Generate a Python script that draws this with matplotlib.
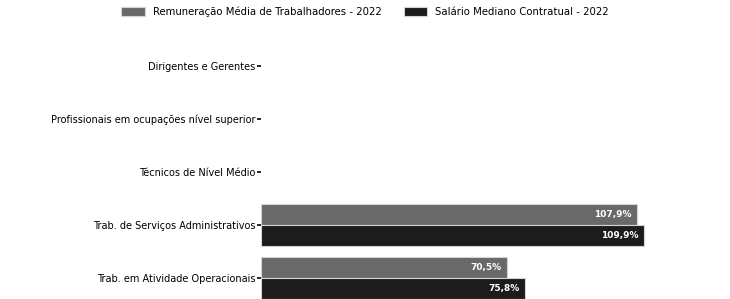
import numpy as np
import matplotlib.pyplot as plt

# categorias e valores (% em relação à média)
categorias = ['Dirigentes e Gerentes',
              'Profissionais em ocupações nível superior',
              'Técnicos de Nível Médio',
              'Trab. de Serviços Administrativos',
              'Trab. em Atividade Operacionais']
remuneracao_media = [np.nan, np.nan, np.nan, 107.9, 70.5]
salario_mediano = [np.nan, np.nan, np.nan, 109.9, 75.8]
series_nomes = ['Remuneração Média de Trabalhadores - 2022',
                'Salário Mediano Contratual - 2022']

W, H = 730, 299
fig = plt.figure(figsize=(W / 100, H / 100), dpi=100)
ax = fig.add_axes([261 / W, 0, (W - 261) / W, (299 - 40) / H])

y = np.arange(len(categorias))
h = 0.4
b1 = ax.barh(y - h / 2, remuneracao_media, height=h, color='#696969',
             edgecolor='#d3d3d3', linewidth=0.8, label=series_nomes[0])
b2 = ax.barh(y + h / 2, salario_mediano, height=h, color='#1c1c1c',
             edgecolor='#d3d3d3', linewidth=0.8, label=series_nomes[1])

for bars, vals in [(b1, remuneracao_media), (b2, salario_mediano)]:
    for bar, v in zip(bars, vals):
        if np.isnan(v):
            continue
        ax.text(v - 1.6, bar.get_y() + bar.get_height() / 2,
                f'{v:.1f}%'.replace('.', ','), ha='right', va='center',
                color='white', fontsize=6.5, fontweight='bold')

ax.set_yticks(y)
ax.set_yticklabels(categorias, fontsize=7)
ax.tick_params(axis='y', length=3, width=1.2, pad=1)
ax.set_ylim(4 + h, -0.49)
ax.set_xlim(0, (W - 261) / 3.485)
ax.set_xticks([])
for s in ax.spines.values():
    s.set_visible(False)

fig.legend(loc='upper center', bbox_to_anchor=(0.5, 1.008), ncol=2,
           frameon=False, fontsize=7.3, handlelength=2.3, handleheight=1.0,
           handletextpad=0.8, columnspacing=2.2)

fig.savefig('out.png', dpi=100)
